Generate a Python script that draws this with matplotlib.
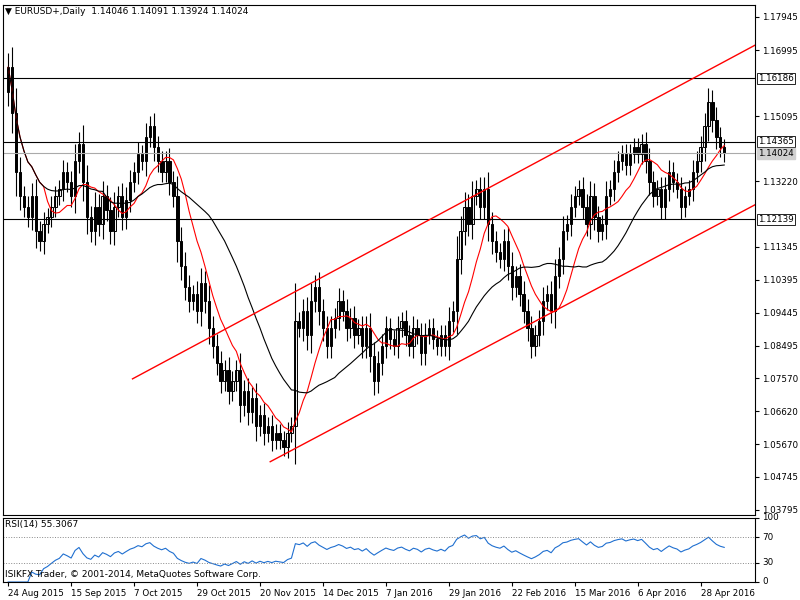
import numpy as np, pandas as pd
import matplotlib
matplotlib.use("Agg")
import matplotlib.pyplot as plt

closes = [1.165,1.152,1.135,1.128,1.125,1.122,1.128,1.118,1.115,1.12,
 1.122,1.125,1.128,1.13,1.135,1.132,1.128,1.138,1.143,1.132,
 1.122,1.118,1.125,1.12,1.128,1.124,1.118,1.125,1.128,1.122,
 1.127,1.132,1.135,1.14,1.138,1.145,1.148,1.142,1.138,1.135,
 1.138,1.132,1.128,1.115,1.108,1.102,1.098,1.10,1.095,1.103,
 1.098,1.09,1.085,1.08,1.075,1.078,1.072,1.075,1.078,1.068,
 1.072,1.066,1.07,1.062,1.065,1.06,1.062,1.058,1.06,1.058,
 1.056,1.06,1.062,1.092,1.09,1.095,1.088,1.098,1.102,1.095,
 1.09,1.085,1.09,1.093,1.098,1.095,1.09,1.093,1.088,1.09,
 1.085,1.09,1.082,1.075,1.08,1.085,1.09,1.087,1.085,1.09,
 1.092,1.088,1.085,1.09,1.088,1.083,1.088,1.09,1.087,1.085,
 1.088,1.085,1.092,1.095,1.11,1.118,1.125,1.12,1.128,1.13,
 1.125,1.13,1.12,1.115,1.112,1.11,1.115,1.108,1.102,1.105,
 1.10,1.095,1.09,1.085,1.088,1.092,1.098,1.10,1.095,1.105,
 1.11,1.118,1.12,1.125,1.128,1.13,1.125,1.12,1.128,1.122,
 1.118,1.12,1.128,1.13,1.135,1.138,1.14,1.137,1.14,1.142,
 1.14,1.143,1.138,1.132,1.128,1.13,1.125,1.13,1.135,1.132,
 1.13,1.125,1.128,1.13,1.135,1.138,1.142,1.148,1.155,1.15,
 1.145,1.142,1.14024]
first_open = 1.158
date_pos = [0,16,32,48,64,80,96,112,128,144,160,176]
date_labels = ["24 Aug 2015","15 Sep 2015","7 Oct 2015","29 Oct 2015","20 Nov 2015","14 Dec 2015",
               "7 Jan 2016","29 Jan 2016","22 Feb 2016","15 Mar 2016","6 Apr 2016","28 Apr 2016"]
price_ticks = [1.17945,1.16995,1.15095,1.13220,1.11345,1.10395,1.09445,1.08495,1.07570,1.06620,1.05670,1.04745,1.03795]
hlines = [1.16186,1.14365,1.12139]
current = 1.14024
chan_upper = [(31.6,1.0755),(197.5,1.1760)]
chan_lower = [(66.6,1.0517),(197.5,1.1301)]

c = np.array(closes); n = len(c)
o = np.concatenate([[first_open], c[:-1]])
body = np.abs(c-o)
hi = np.maximum(o,c) + 0.3*body + 0.002
lo = np.minimum(o,c) - 0.3*body - 0.002
x = np.arange(n)
s = pd.Series(c)
ma_fast = s.rolling(10, min_periods=1).mean()
ma_slow = s.rolling(25, min_periods=1).mean()
d = s.diff().fillna(0)
up = d.clip(lower=0).ewm(alpha=1/14, adjust=False).mean()
dn = (-d.clip(upper=0)).ewm(alpha=1/14, adjust=False).mean()
rsi = 100 - 100/(1+up/dn.replace(0,1e-9))

fig = plt.figure(figsize=(8,6), dpi=100)
xl = (-5/3.95, 750/3.95)
ax = fig.add_axes([0.004, 0.142, 0.94, 0.85])
ax2 = fig.add_axes([0.004, 0.03, 0.94, 0.107])
for a in (ax, ax2):
    a.set_xlim(*xl)
    for sp in a.spines.values(): sp.set_linewidth(0.8)
    a.yaxis.tick_right()
    a.tick_params(labelsize=6.3, length=3, direction='out', pad=2)
ax.set_ylim(1.03795-0.0015, 1.17945+0.0035)
ax.set_xticks([])
ax.set_yticks(price_ticks)
ax.set_yticklabels([f"{p:.5f}" for p in price_ticks])

ax.vlines(x, lo, hi, color='black', lw=0.8)
bull = c >= o
ax.bar(x[bull], (c-o)[bull], bottom=o[bull], width=0.6, color='white', edgecolor='black', lw=0.7)
ax.bar(x[~bull], (o-c)[~bull], bottom=c[~bull], width=0.6, color='black', edgecolor='black', lw=0.7)
ax.plot(x, ma_fast, color='red', lw=0.8)
ax.plot(x, ma_slow, color='black', lw=0.8)
for h in hlines:
    ax.axhline(h, color='black', lw=0.8)
    ax.text(1.004, h, f"{h:.5f}", transform=ax.get_yaxis_transform(), fontsize=6.3, va='center',
            bbox=dict(boxstyle='square,pad=0.12', fc='white', ec='black', lw=0.6))
ax.axhline(current, color='#aaaaaa', lw=0.8)
ax.text(1.004, current, f"{current:.5f}", transform=ax.get_yaxis_transform(), fontsize=6.3, va='center',
        bbox=dict(boxstyle='square,pad=0.12', fc='#d0d0d0', ec='#d0d0d0'))
for ch in (chan_upper, chan_lower):
    ax.plot([p[0] for p in ch], [p[1] for p in ch], color='red', lw=1)
ax.text(0.003, 0.995, "\u25bc EURUSD+,Daily  1.14046 1.14091 1.13924 1.14024", transform=ax.transAxes,
        fontsize=6.5, va='top')

ax2.set_ylim(0, 100)
ax2.plot(x, rsi, color='#1f6fd0', lw=0.8)
for lv in (30, 70):
    ax2.axhline(lv, color='#888888', lw=0.7, ls=':')
ax2.set_yticks([100,70,30,0]); ax2.set_yticklabels(['100','70','30','0'], va='center')
ax2.set_xticks(date_pos); ax2.set_xticklabels(date_labels, fontsize=6.3, ha='left')
ax2.text(0.003, 0.97, "RSI(14) 55.3067", transform=ax2.transAxes, fontsize=6.5, va='top')
ax2.text(0.003, 0.05, "ISIKFX Trader, \u00a9 2001-2014, MetaQuotes Software Corp.", transform=ax2.transAxes, fontsize=6.5, va='bottom')
fig.savefig("out.png", dpi=100)
